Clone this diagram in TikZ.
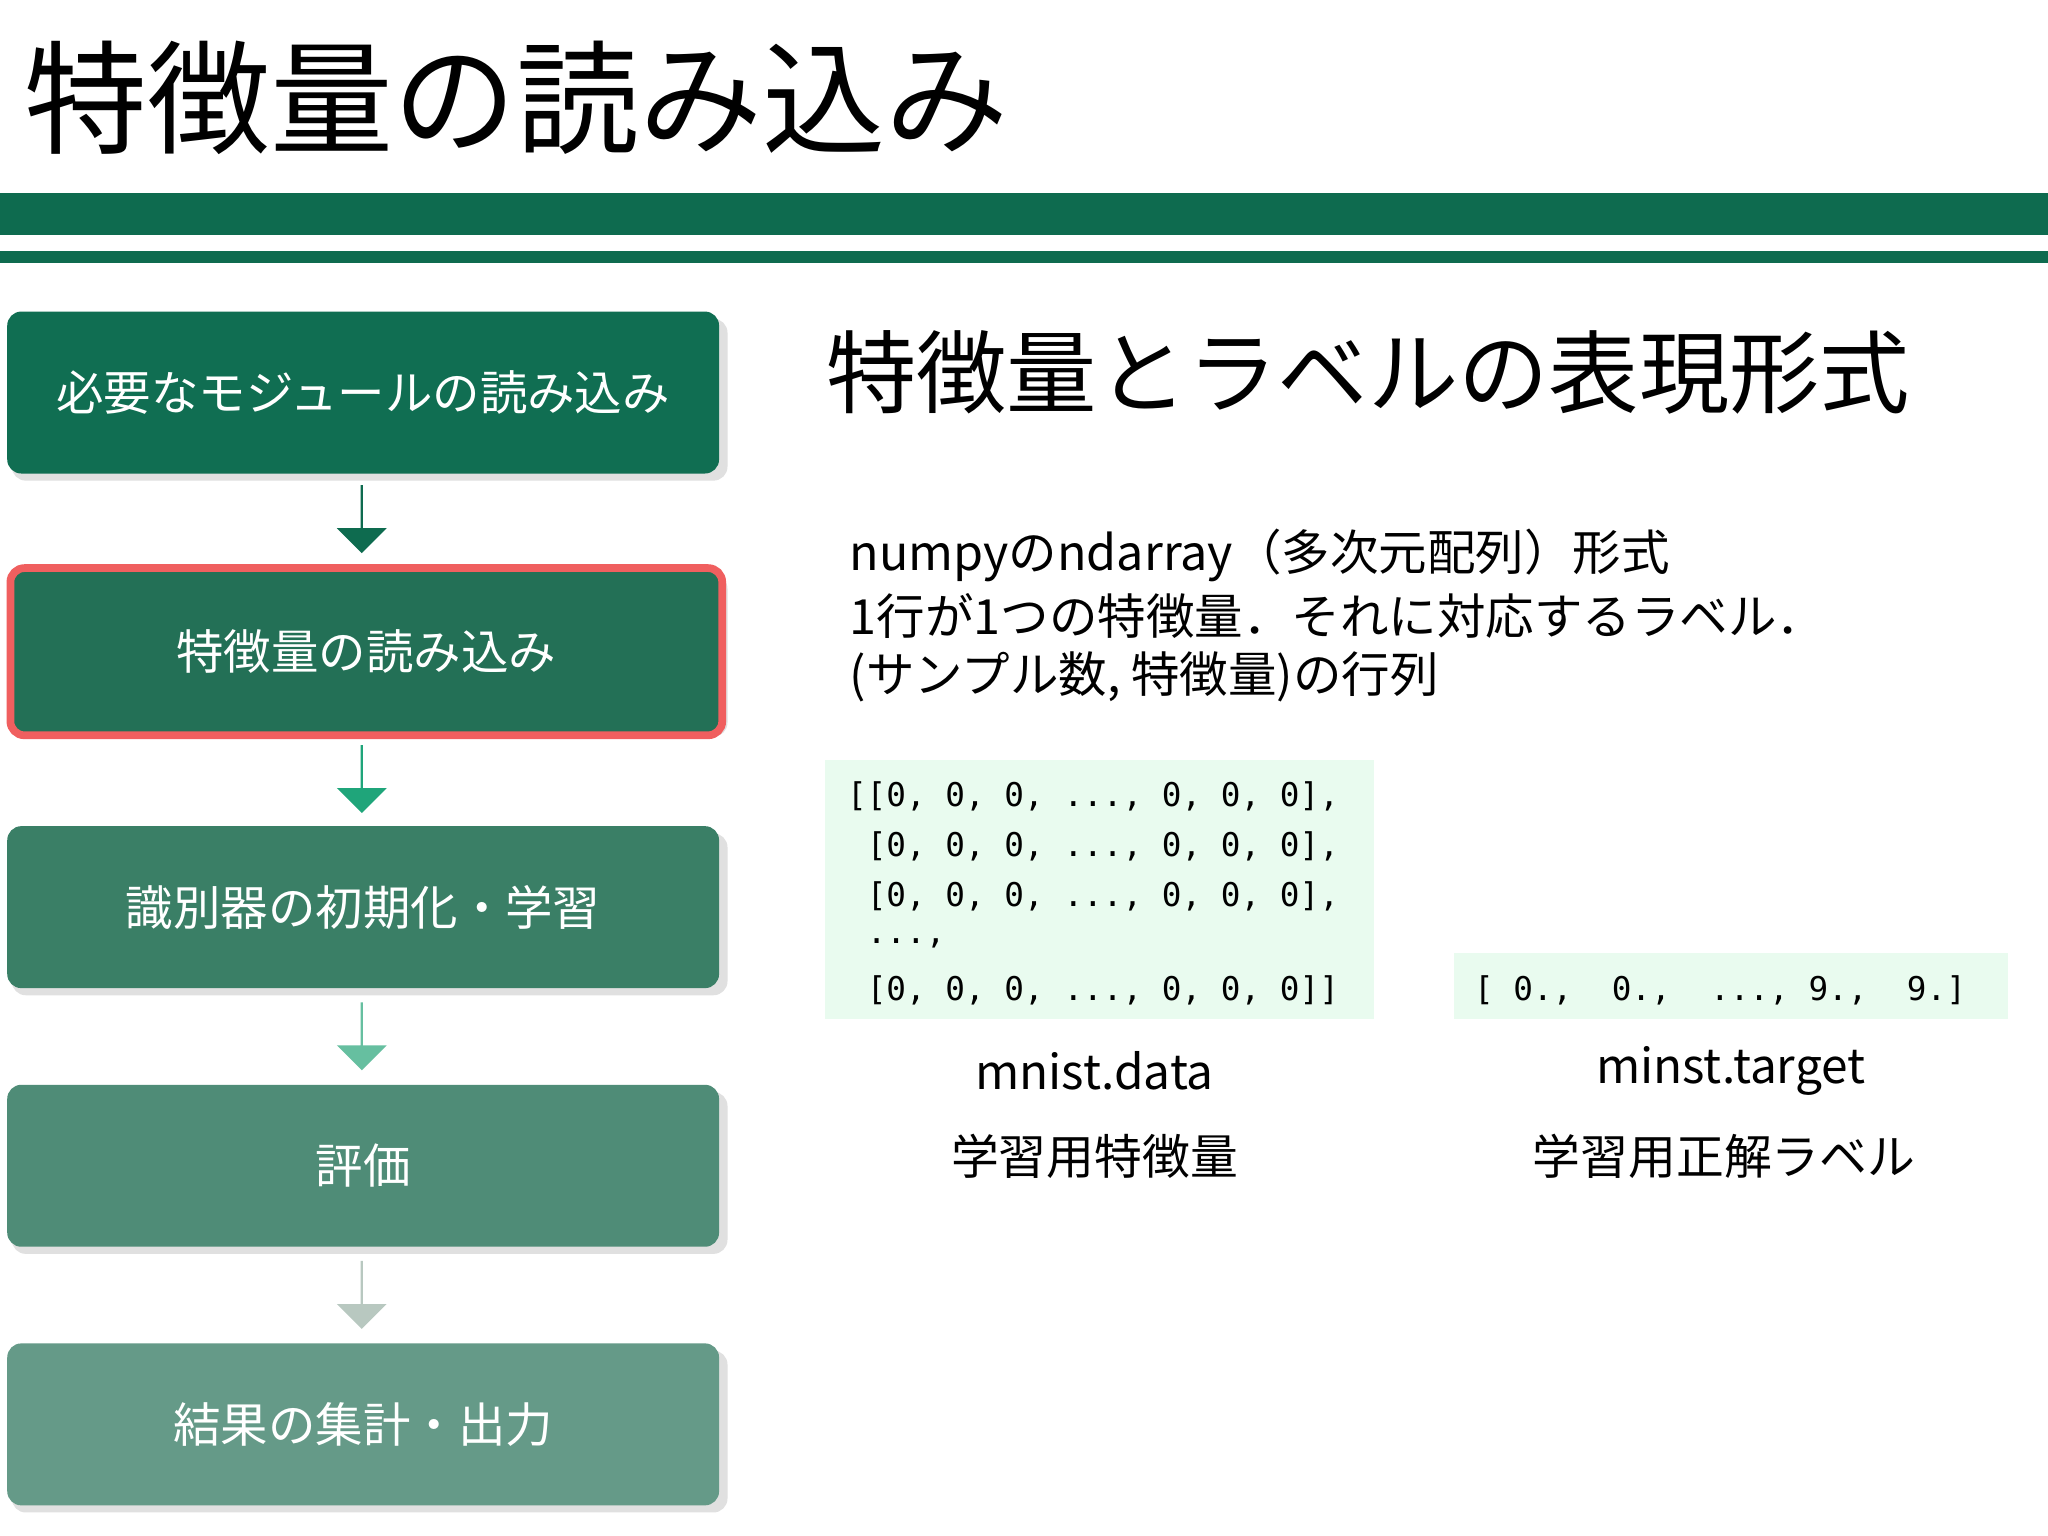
\documentclass[tikz,border=0pt]{standalone}
\usepackage{fontspec}
\setmainfont{Noto Sans CJK JP}
\newfontfamily\cjk{Noto Sans CJK JP}
\setmonofont{DejaVu Sans Mono}
\usetikzlibrary{shapes.arrows}
\definecolor{bar}{HTML}{0E6B4F}
\definecolor{codebg}{HTML}{E9FBEF}
\tikzset{
 stepbox/.style={rectangle,rounded corners=4pt,minimum width=545*0.01306cm,minimum height=124*0.01306cm,text=white,font=\fontsize{13.5}{16}\selectfont,anchor=north west,inner sep=0pt},
 shad/.style={fill=black!12,rounded corners=4pt},
 darrow/.style={single arrow,shape border rotate=270,minimum width=38*0.01306cm,single arrow head extend=11*0.01306cm,single arrow head indent=0pt,minimum height=52*0.01306cm,inner sep=0pt,draw=none},
 codetxt/.style={font=\ttfamily\fontsize{9.3}{13}\selectfont,anchor=west,inner sep=0pt},
 lbl/.style={font=\fontsize{13.6}{16}\selectfont,inner sep=0pt},
 body/.style={font=\fontsize{13.8}{16}\selectfont,anchor=west,inner sep=0pt}
}
\begin{document}
\begin{tikzpicture}[x=0.01306cm,y=-0.01306cm]
\useasboundingbox[fill=white] (0,0) rectangle (1568,1176);
\node[anchor=west,inner sep=0pt,font=\fontsize{35}{40}\selectfont] (title) at (18,75) {特徴量の読み込み};
\fill[bar] (0,148) rectangle (1568,180);
\fill[bar] (0,192) rectangle (1568,201);
% shadows
\foreach \y in {238,434,632,830,1028}{
  \fill[shad] (9,\y+6) rectangle (557,\y+130);
}
\node[stepbox,fill={rgb,255:red,16;green,110;blue,82}] (b1) at (5,238) {必要なモジュールの読み込み};
\node[stepbox,fill={rgb,255:red,35;green,112;blue,86},draw={rgb,255:red,240;green,95;blue,95},line width=2.2pt,minimum height=128*0.01306cm] (b2) at (5,432) {特徴量の読み込み};
\node[stepbox,fill={rgb,255:red,58;green,127;blue,102}] (b3) at (5,632) {識別器の初期化・学習};
\node[stepbox,fill={rgb,255:red,79;green,140;blue,119}] (b4) at (5,830) {評価};
\node[stepbox,fill={rgb,255:red,101;green,154;blue,136}] (b5) at (5,1028) {結果の集計・出力};
\node[darrow,fill={rgb,255:red,14;green,107;blue,79}] (a1) at (277,397) {};
\node[darrow,fill={rgb,255:red,31;green,165;blue,122}] (a2) at (277,596) {};
\node[darrow,fill={rgb,255:red,102;green,191;blue,160}] (a3) at (277,793) {};
\node[darrow,fill={rgb,255:red,184;green,200;blue,192}] (a4) at (277,991) {};
% right side
\node[anchor=west,inner sep=0pt,font=\fontsize{25.7}{30}\selectfont] (h) at (632,285) {特徴量とラベルの表現形式};
\node[body] (t1) at (650,425) {numpyのndarray（多次元配列）形式};
\node[body] (t2) at (650,472) {1行が1つの特徴量．それに対応するラベル．};
\node[body] (t3) at (650,518) {(サンプル数, 特徴量)の行列};
\fill[codebg] (632,582) rectangle (1052,780);
\fill[codebg] (1113,730) rectangle (1537,780);
\node[codetxt] (c1) at (648,610) {[[0, 0, 0, ..., 0, 0, 0],};
\node[codetxt] (c2) at (648,648) {\ [0, 0, 0, ..., 0, 0, 0],};
\node[codetxt] (c3) at (648,686) {\ [0, 0, 0, ..., 0, 0, 0],};
\node[codetxt] (c4) at (648,722) {\ ...,};
\node[codetxt] (c5) at (648,758) {\ [0, 0, 0, ..., 0, 0, 0]]};
\node[codetxt] (c6) at (1128,758) {[ 0.,\ \ 0.,\ \ ..., 9.,\ \ 9.]};
\node[lbl] (l1) at (838,820) {mnist.data};
\node[lbl] (l2) at (838,885) {学習用特徴量};
\node[lbl] (l3) at (1325,820) {minst.target};
\node[lbl] (l4) at (1320,885) {学習用正解ラベル};
\end{tikzpicture}
\end{document}
